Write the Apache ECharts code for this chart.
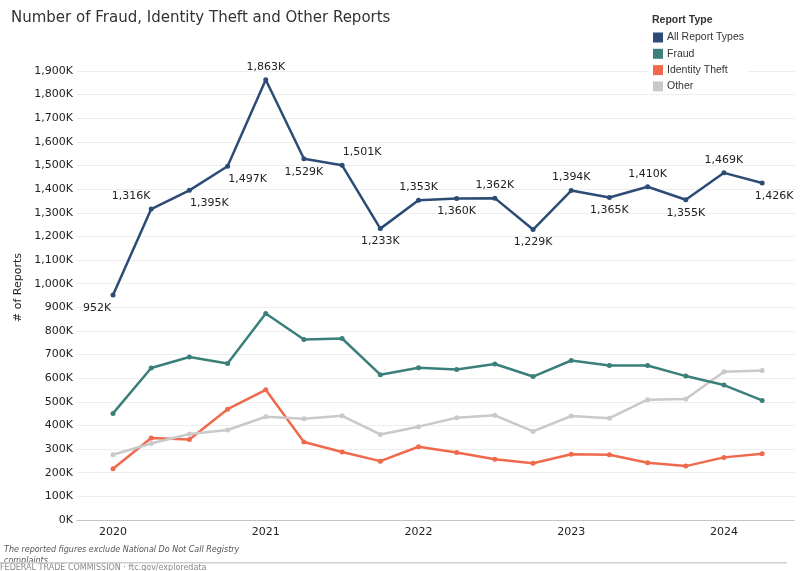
<!DOCTYPE html>
<html>
<head>
<meta charset="utf-8">
<script src="https://cdn.jsdelivr.net/npm/echarts@6/dist/echarts.min.js"></script>
<style>
  html, body { margin: 0; padding: 0; background: #fff; }
  #chart { width: 806px; height: 571px; }
</style>
</head>
<body>
<div id="chart"></div>
<script>
// quarterly report counts, thousands
const quarters = ['2020 Q1','2020 Q2','2020 Q3','2020 Q4','2021 Q1','2021 Q2','2021 Q3','2021 Q4',
  '2022 Q1','2022 Q2','2022 Q3','2022 Q4','2023 Q1','2023 Q2','2023 Q3','2023 Q4','2024 Q1','2024 Q2'];
const yearTicks = [0, 4, 8, 12, 16];
const allReports = [952, 1316, 1395, 1497, 1863, 1529, 1501, 1233, 1353, 1360, 1362, 1229, 1394, 1365, 1410, 1355, 1469, 1426];
const fraud = [451, 643, 690, 662, 874, 764, 768, 615, 644, 637, 660, 607, 675, 654, 654, 609, 571, 506];
const identityTheft = [217, 347, 341, 469, 551, 330, 288, 249, 310, 286, 257, 240, 278, 276, 242, 228, 265, 280];
const other = [276, 324, 364, 381, 437, 428, 441, 362, 395, 433, 443, 375, 440, 431, 509, 512, 627, 633];

// where each "All Report Types" label sits
const labelPlace = [
  ['bottom', -16], ['top', -20], ['bottom', 20], ['bottom', 20], ['top', 0], ['bottom', 0],
  ['top', 20], ['bottom', 0], ['top', 0], ['bottom', 0], ['top', 0], ['bottom', 0],
  ['top', 0], ['bottom', 0], ['top', 0], ['bottom', 0], ['top', 0], ['bottom', 12]
];

const fmtK = v => v.toLocaleString('en-US') + 'K';
const font = 'DejaVu Sans';

const chart = echarts.init(document.getElementById('chart'));

const lineSeries = (name, vals, color, z) => ({
  name: name,
  type: 'line',
  data: vals.map((v, i) => [i, v]),
  symbol: 'circle',
  symbolSize: 5,
  z: z,
  lineStyle: { color: color, width: 2.5 },
  itemStyle: { color: color },
  emphasis: { disabled: true },
  animation: false
});

const allSeries = lineSeries('All Report Types', allReports, '#2c4c76', 5);
allSeries.data = allReports.map((v, i) => ({
  value: [i, v],
  label: {
    show: true,
    position: labelPlace[i][0],
    offset: [labelPlace[i][1], 0],
    distance: 5,
    formatter: () => fmtK(v),
    fontFamily: font,
    fontSize: 11,
    color: '#222'
  }
}));

const option = {
  backgroundColor: '#fff',
  title: [
    {
      text: 'Number of Fraud, Identity Theft and Other Reports',
      left: 11, top: 11, padding: 0,
      textStyle: { fontFamily: font, fontSize: 15, fontWeight: 'normal', color: '#333' }
    },
    {
      text: 'Report Type',
      left: 652, top: 15, padding: 0,
      textStyle: { fontFamily: 'Liberation Sans', fontSize: 10.5, fontWeight: 'bold', color: '#333' }
    }
  ],
  legend: {
    orient: 'vertical',
    left: 649, top: 30,
    padding: [2, 4],
    backgroundColor: '#fff',
    icon: 'rect',
    itemWidth: 10, itemHeight: 10, itemGap: 5.3,
    textStyle: { fontFamily: 'Liberation Sans', fontSize: 10.5, color: '#333', padding: [0, 0, 0, -1] },
    data: ['All Report Types', 'Fraud', 'Identity Theft', 'Other'],
    selectedMode: false,
    z: 10
  },
  grid: { left: 77, right: 11, top: 71, bottom: 51, containLabel: false, outerBoundsMode: 'none' },
  xAxis: {
    type: 'value',
    min: -0.943, max: 17.86,
    splitLine: { show: false },
    axisTick: { show: false },
    axisLine: { show: true, lineStyle: { color: '#bbb', type: 'dotted', width: 1 } },
    axisLabel: {
      customValues: yearTicks,
      formatter: v => quarters[Math.round(v)].slice(0, 4),
      fontFamily: font, fontSize: 11, color: '#222', margin: 7
    }
  },
  yAxis: {
    type: 'value',
    min: 0, max: 1900, interval: 100,
    name: '# of Reports',
    nameLocation: 'middle',
    nameGap: 43,
    nameTextStyle: { fontFamily: font, fontSize: 11, color: '#222', padding: [0, 0, 0, 16] },
    axisLine: { show: false },
    axisTick: { show: false },
    splitLine: { lineStyle: { color: '#eeeeee', width: 1 } },
    axisLabel: { formatter: fmtK, fontFamily: font, fontSize: 11, color: '#222', margin: 4 }
  },
  series: [
    allSeries,
    lineSeries('Fraud', fraud, '#3b7f7b', 4),
    lineSeries('Identity Theft', identityTheft, '#f0694d', 2),
    lineSeries('Other', other, '#c9c9c9', 3)
  ],
  graphic: [
    {
      type: 'text', left: 4, top: 544,
      style: {
        text: 'The reported figures exclude National Do Not Call Registry\ncomplaints.',
        fontFamily: font, fontStyle: 'italic', fontSize: 8, lineHeight: 11, fill: '#555'
      }
    },
    {
      type: 'rect', shape: { x: 0, y: 562, width: 787, height: 1.5 },
      style: { fill: '#cfcfcf' }, z: 20
    },
    {
      type: 'text', left: 0, top: 564,
      style: { text: 'FEDERAL TRADE COMMISSION · ftc.gov/exploredata', fontFamily: font, fontSize: 8, fill: '#888' }
    }
  ]
};

chart.setOption(option);
</script>
</body>
</html>
